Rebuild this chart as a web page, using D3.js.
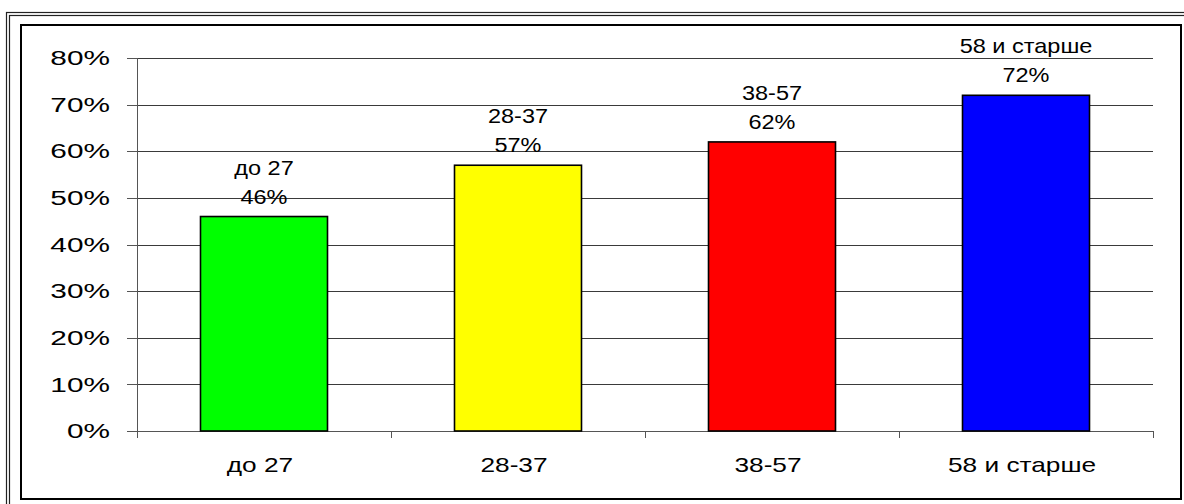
<!DOCTYPE html>
<html>
<meta charset="utf-8">
<title>Age groups</title>
<script src="https://d3js.org/d3.v7.min.js"></script>
<style>
body { margin: 0; background: #fff; }
text { font-family: "Liberation Sans", Arial, sans-serif; fill: #000; font-size: 21px; }
.grid line { stroke: #3a3a3a; stroke-width: 1; shape-rendering: crispEdges; }
.axis path, .axis line { stroke: #555; shape-rendering: crispEdges; }
.bar { stroke: #000; stroke-width: 1.6; }
</style>
<body>
<svg width="1184" height="504"></svg>
<script>
// data
var categories = ["до 27", "28-37", "38-57", "58 и старше"];
var values = [46, 57, 62, 72];
var colors = ["#00ff00", "#ffff00", "#ff0000", "#0000ff"];
var yTicks = [0, 10, 20, 30, 40, 50, 60, 70, 80];

var svg = d3.select("svg");

// outer double frame (runs off the page at right and bottom)
svg.append("rect").attr("x", 6.5).attr("y", 12.5).attr("width", 1200).attr("height", 520)
  .attr("fill", "none").attr("stroke", "#222").attr("stroke-width", 1.2);
svg.append("rect").attr("x", 9.5).attr("y", 15.5).attr("width", 1200).attr("height", 520)
  .attr("fill", "none").attr("stroke", "#222").attr("stroke-width", 1.2);

// chart box
svg.append("rect").attr("x", 21).attr("y", 25).attr("width", 1160).attr("height", 474)
  .attr("fill", "#fff").attr("stroke", "#000").attr("stroke-width", 2);

var margin = { left: 137, top: 58, right: 1153, bottom: 431 };

var x = d3.scaleBand().domain(categories).range([margin.left, margin.right]);
var y = d3.scaleLinear().domain([0, 80]).range([margin.bottom, margin.top]);

// widen a text element around its own anchor point (source picture is stretched)
function widen(sel, k, px, py) {
  sel.each(function() {
    var t = d3.select(this);
    var tx = px != null ? px : +t.attr("x") || 0;
    var ty = py != null ? py : +t.attr("y") || 0;
    t.attr("x", 0).attr("y", 0)
     .attr("transform", "translate(" + tx + "," + ty + ") scale(" + k + ",1)");
  });
}

// gridlines
svg.append("g").attr("class", "grid")
  .selectAll("line").data(yTicks.filter(function(d){ return d > 0; })).enter().append("line")
  .attr("x1", margin.left).attr("x2", margin.right)
  .attr("y1", function(d){ return Math.round(y(d)) + 0.5; })
  .attr("y2", function(d){ return Math.round(y(d)) + 0.5; });

// y axis
var yAxis = svg.append("g").attr("class", "axis")
  .attr("transform", "translate(" + margin.left + ",0)")
  .call(d3.axisLeft(y).tickValues(yTicks).tickSize(10).tickPadding(17)
    .tickFormat(function(d){ return d + "%"; }));
yAxis.select(".domain").attr("d", "M0.5," + margin.top + "V" + margin.bottom);
yAxis.selectAll("text").attr("font-size", null).attr("font-family", null);
widen(yAxis.selectAll(".tick text"), 1.42, -27, 0);

// x axis
var xAxis = svg.append("g").attr("class", "axis")
  .attr("transform", "translate(0," + margin.bottom + ")")
  .call(d3.axisBottom(x).tickSize(0).tickPadding(26));
xAxis.select(".domain").attr("d", "M" + margin.left + ",0.5H" + margin.right);
xAxis.selectAll("text").attr("font-size", null).attr("font-family", null);
widen(xAxis.selectAll(".tick text"), 1.25, -4, 26);

// category boundary ticks
var bounds = categories.map(function(c){ return x(c); }).concat([x(categories[3]) + x.bandwidth()]);
svg.append("g").attr("class", "axis")
  .selectAll("line").data(bounds).enter().append("line")
  .attr("x1", function(d){ return Math.round(d) + 0.5; })
  .attr("x2", function(d){ return Math.round(d) + 0.5; })
  .attr("y1", margin.bottom).attr("y2", margin.bottom + 7);

// bars
svg.selectAll(".bar").data(values).enter().append("rect")
  .attr("class", "bar")
  .attr("x", function(d, i){ return x(categories[i]) + x.bandwidth() / 4; })
  .attr("y", function(d){ return y(d); })
  .attr("width", x.bandwidth() / 2)
  .attr("height", function(d){ return y(0) - y(d); })
  .attr("fill", function(d, i){ return colors[i]; });

// data labels
var lbl = svg.append("g").selectAll("g").data(values).enter().append("g");
lbl.append("text")
  .attr("x", function(d, i){ return x(categories[i]) + x.bandwidth() / 2; })
  .attr("y", function(d){ return y(d) - 42; })
  .attr("text-anchor", "middle")
  .text(function(d, i){ return categories[i]; });
lbl.append("text")
  .attr("x", function(d, i){ return x(categories[i]) + x.bandwidth() / 2; })
  .attr("y", function(d){ return y(d) - 13; })
  .attr("text-anchor", "middle")
  .text(function(d){ return d + "%"; });
widen(lbl.selectAll("text"), 1.12);
</script>
</body>
</html>
